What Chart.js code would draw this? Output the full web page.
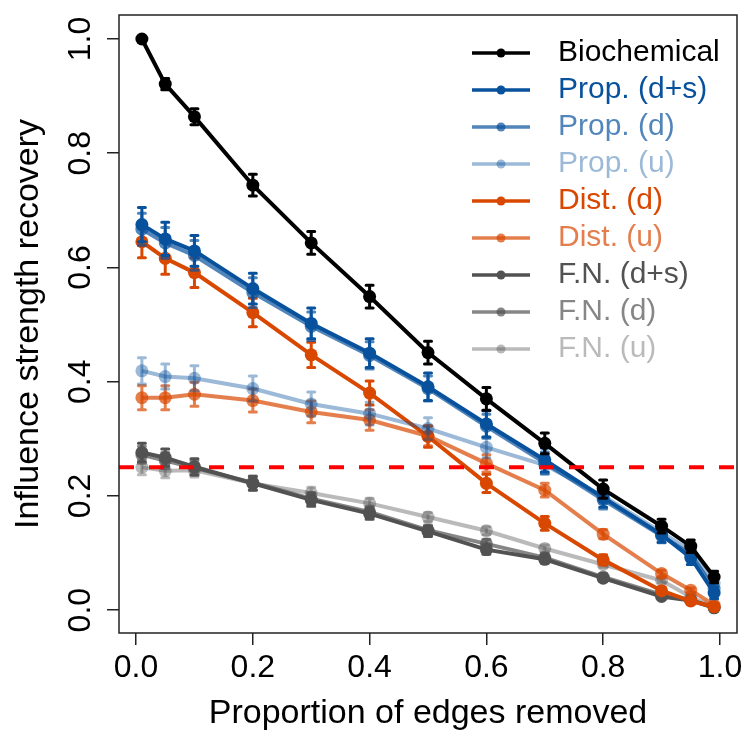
<!DOCTYPE html>
<html>
<head>
<meta charset="utf-8">
<script src="https://cdn.jsdelivr.net/npm/chart.js@4.4.1/dist/chart.umd.min.js"></script>
<style>
  html, body { margin: 0; padding: 0; background: #fff; }
  #chart { display: block; }
</style>
</head>
<body>
<canvas id="chart" width="747" height="734"></canvas>
<script>
// proportion of edges removed (x positions of the points)
const edgesRemoved = [0.01, 0.05, 0.1, 0.2, 0.3, 0.4, 0.5, 0.6, 0.7, 0.8, 0.9, 0.95, 0.99];

// influence strength recovery, one array per method
const biochemical = [1.000, 0.921, 0.864, 0.744, 0.643, 0.549, 0.451, 0.370, 0.292, 0.212, 0.147, 0.112, 0.058];
const propDS = [0.675, 0.650, 0.629, 0.563, 0.502, 0.450, 0.391, 0.326, 0.263, 0.197, 0.132, 0.092, 0.030];
const propD  = [0.667, 0.643, 0.621, 0.556, 0.497, 0.446, 0.388, 0.322, 0.258, 0.193, 0.130, 0.098, 0.038];
const propU  = [0.419, 0.409, 0.406, 0.388, 0.361, 0.344, 0.318, 0.285, 0.254, 0.200, 0.136, 0.104, 0.047];
const distD  = [0.645, 0.616, 0.591, 0.521, 0.447, 0.380, 0.304, 0.222, 0.152, 0.088, 0.034, 0.016, 0.006];
const distU  = [0.372, 0.372, 0.378, 0.367, 0.347, 0.333, 0.305, 0.257, 0.210, 0.133, 0.064, 0.035, 0.009];
const fnDS   = [0.276, 0.267, 0.251, 0.222, 0.193, 0.169, 0.138, 0.106, 0.089, 0.056, 0.024, 0.017, 0.004];
const fnD    = [0.272, 0.262, 0.249, 0.223, 0.195, 0.172, 0.140, 0.116, 0.092, 0.058, 0.027, 0.018, 0.005];
const fnU    = [0.250, 0.244, 0.245, 0.222, 0.205, 0.187, 0.163, 0.139, 0.108, 0.080, 0.052, 0.023, 0.006];

// half-length of the error bars
const biochemicalErr = [0.004, 0.010, 0.014, 0.019, 0.020, 0.020, 0.020, 0.020, 0.018, 0.016, 0.012, 0.011, 0.010];
const propDSErr = [0.030, 0.029, 0.027, 0.027, 0.027, 0.025, 0.024, 0.023, 0.021, 0.017, 0.013, 0.012, 0.010];
const propDErr  = [0.028, 0.027, 0.026, 0.026, 0.025, 0.024, 0.022, 0.021, 0.019, 0.016, 0.012, 0.011, 0.009];
const propUErr  = [0.023, 0.022, 0.022, 0.022, 0.021, 0.020, 0.019, 0.018, 0.016, 0.013, 0.010, 0.008, 0.006];
const distDErr  = [0.028, 0.028, 0.026, 0.025, 0.022, 0.021, 0.019, 0.016, 0.012, 0.009, 0.006, 0.004, 0.003];
const distUErr  = [0.021, 0.021, 0.021, 0.020, 0.019, 0.018, 0.017, 0.015, 0.012, 0.008, 0.006, 0.004, 0.003];
const fnDSErr   = [0.016, 0.015, 0.014, 0.012, 0.011, 0.010, 0.009, 0.008, 0.007, 0.006, 0.004, 0.003, 0.002];
const fnDErr    = [0.015, 0.014, 0.013, 0.012, 0.011, 0.010, 0.009, 0.008, 0.007, 0.006, 0.004, 0.003, 0.002];
const fnUErr    = [0.013, 0.012, 0.012, 0.011, 0.010, 0.009, 0.008, 0.007, 0.006, 0.005, 0.004, 0.003, 0.002];

const seriesNames = ['Biochemical', 'Prop. (d+s)', 'Prop. (d)', 'Prop. (u)', 'Dist. (d)', 'Dist. (u)', 'F.N. (d+s)', 'F.N. (d)', 'F.N. (u)'];
const seriesValues = [biochemical, propDS, propD, propU, distD, distU, fnDS, fnD, fnU];
const seriesErrors = [biochemicalErr, propDSErr, propDErr, propUErr, distDErr, distUErr, fnDSErr, fnDErr, fnUErr];
const seriesColors = [
  '#000000',
  'rgb(8,81,156)', 'rgba(8,81,156,0.7)', 'rgba(8,81,156,0.4)',
  'rgb(217,72,1)', 'rgba(217,72,1,0.7)',
  'rgb(82,82,82)', 'rgba(82,82,82,0.7)', 'rgba(82,82,82,0.4)'
];

const xTicks = [0, 0.2, 0.4, 0.6, 0.8, 1.0];
const yTicks = [0, 0.2, 0.4, 0.6, 0.8, 1.0];
const threshold = 0.25;

const FONT = '"Liberation Sans", Arial, Helvetica, sans-serif';
Chart.defaults.font.family = FONT;
Chart.defaults.color = '#000';

// vertical error bars, drawn right after each series so layering follows the series
const errorBars = {
  id: 'errorBars',
  afterDatasetDraw(chart, args) {
    const ds = chart.data.datasets[args.index];
    if (!ds.errors) return;
    const ctx = chart.ctx;
    const yScale = chart.scales.y;
    ctx.save();
    ctx.strokeStyle = ds.borderColor;
    ctx.lineWidth = 3;
    ctx.lineCap = 'round';
    args.meta.data.forEach((pt, i) => {
      const v = ds.data[i].y;
      const e = ds.errors[i];
      const top = yScale.getPixelForValue(v + e);
      const bot = yScale.getPixelForValue(v - e);
      ctx.beginPath();
      ctx.moveTo(pt.x, top);
      ctx.lineTo(pt.x, bot);
      ctx.moveTo(pt.x - 3.5, top);
      ctx.lineTo(pt.x + 3.5, top);
      ctx.moveTo(pt.x - 3.5, bot);
      ctx.lineTo(pt.x + 3.5, bot);
      ctx.stroke();
    });
    ctx.restore();
  }
};

// red dashed reference line and the plot box
const frame = {
  id: 'frame',
  afterDatasetsDraw(chart) {
    const {ctx, chartArea: a, scales: {y}} = chart;
    ctx.save();
    const yy = y.getPixelForValue(threshold);
    ctx.strokeStyle = '#ff0000';
    ctx.lineWidth = 4;
    ctx.setLineDash([15, 15]);
    ctx.beginPath();
    ctx.moveTo(a.left, yy);
    ctx.lineTo(a.right, yy);
    ctx.stroke();
    ctx.setLineDash([]);
    ctx.strokeStyle = '#222';
    ctx.lineWidth = 1.5;
    ctx.strokeRect(a.left, a.top, a.right - a.left, a.bottom - a.top);
    ctx.restore();
  }
};

// R-style legend: short line with a dot, coloured label
const rLegend = {
  id: 'rLegend',
  afterDraw(chart) {
    const {ctx, chartArea: a} = chart;
    const x0 = a.right - 265;
    const y0 = a.top + 38;
    const step = 37;
    ctx.save();
    ctx.font = '30px ' + FONT;
    ctx.textBaseline = 'middle';
    ctx.textAlign = 'left';
    seriesNames.forEach((name, i) => {
      const yy = y0 + i * step;
      const c = seriesColors[i];
      ctx.strokeStyle = c;
      ctx.fillStyle = c;
      ctx.lineWidth = 3.5;
      ctx.beginPath();
      ctx.moveTo(x0, yy);
      ctx.lineTo(x0 + 58, yy);
      ctx.stroke();
      ctx.beginPath();
      ctx.arc(x0 + 29, yy, 4.5, 0, Math.PI * 2);
      ctx.fill();
      ctx.fillText(name, x0 + 86, yy);
    });
    ctx.restore();
  }
};

const datasets = seriesNames.map((name, i) => ({
  label: name,
  data: edgesRemoved.map((x, j) => ({x: x, y: seriesValues[i][j]})),
  errors: seriesErrors[i],
  borderColor: seriesColors[i],
  backgroundColor: seriesColors[i],
  pointBackgroundColor: seriesColors[i],
  pointBorderWidth: 0,
  pointRadius: 6.5,
  pointHoverRadius: 6.5,
  borderWidth: 4,
  showLine: true,
  tension: 0
}));

// fixed axis sizes, no extra room for overflowing tick labels
function fixPadding(s) {
  s.paddingTop = 0; s.paddingBottom = 0; s.paddingLeft = 0; s.paddingRight = 0;
}

new Chart(document.getElementById('chart'), {
  type: 'scatter',
  data: { datasets: datasets },
  options: {
    responsive: false,
    animation: false,
    devicePixelRatio: 1,
    layout: { padding: { top: 15, right: 10, left: 0, bottom: 0 } },
    plugins: { legend: { display: false }, tooltip: { enabled: false } },
    scales: {
      x: {
        type: 'linear',
        min: -0.0292,
        max: 1.0292,
        afterBuildTicks: s => { s.ticks = xTicks.map(v => ({value: v})); },
        afterFit: s => { s.height = 101; fixPadding(s); },
        ticks: {
          autoSkip: false, maxRotation: 0, padding: 4,
          font: { size: 32 }, color: '#000',
          callback: v => v.toFixed(1)
        },
        grid: { drawOnChartArea: false, drawTicks: true, tickLength: 12, tickColor: '#222', lineWidth: 1.5 },
        border: { display: false },
        title: { display: true, text: 'Proportion of edges removed', font: { size: 34 }, color: '#000', padding: { top: 0, bottom: 0 } }
      },
      y: {
        type: 'linear',
        min: -0.04,
        max: 1.042,
        afterBuildTicks: s => { s.ticks = yTicks.map(v => ({value: v})); },
        afterFit: s => { s.width = 119; fixPadding(s); },
        ticks: {
          autoSkip: false, minRotation: 90, maxRotation: 90, crossAlign: 'center', padding: 4,
          font: { size: 32 }, color: '#000',
          callback: v => v.toFixed(1)
        },
        grid: { drawOnChartArea: false, drawTicks: true, tickLength: 12, tickColor: '#222', lineWidth: 1.5 },
        border: { display: false },
        title: { display: true, text: 'Influence strength recovery', font: { size: 34 }, color: '#000', padding: { top: 8, bottom: 0 } }
      }
    }
  },
  plugins: [errorBars, frame, rLegend]
});
</script>
</body>
</html>
